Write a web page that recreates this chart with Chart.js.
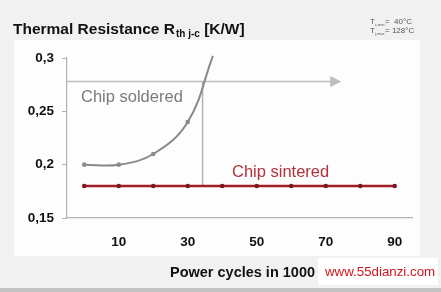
<!DOCTYPE html>
<html>
<head>
<meta charset="utf-8">
<script src="https://cdn.jsdelivr.net/npm/chart.js@4.4.1/dist/chart.umd.min.js"></script>
<style>
  html, body { margin: 0; padding: 0; background: #f1f1f1; }
  #wrap { position: relative; width: 441px; height: 292px; overflow: hidden; }
  canvas { position: absolute; left: 0; top: 0; }
</style>
</head>
<body>
<div id="wrap"><canvas id="c" width="441" height="292"></canvas></div>
<script>
// ---- data ----
const cycles = [0, 10, 20, 30, 40, 50, 60, 70, 80, 90];
const sinteredValues = [0.18, 0.18, 0.18, 0.18, 0.18, 0.18, 0.18, 0.18, 0.18, 0.18];
const solderedCycles = [0, 10, 20, 30, 37.3];
const solderedValues = [0.2, 0.2, 0.21, 0.24, 0.302];
const xTickValues = [10, 30, 50, 70, 90];
const yTickValues = [0.15, 0.2, 0.25, 0.3];
const titleMain = 'Thermal Resistance R';
const titleSub = 'th j-c';
const titleUnit = ' [K/W]';
const xAxisTitle = 'Power cycles in 1000';
const seriesNames = ['Chip soldered', 'Chip sintered'];
const arrowLevel = 0.278;      // horizontal arrow value
const arrowEnd = 74.5;         // arrow tip (cycles)
const crossCycle = 34.3;       // vertical marker (cycles)
const watermark = 'www.55dianzi.com';

const FONT = '"Liberation Sans", Arial, sans-serif';

const decorPlugin = {
  id: 'decor',
  beforeDraw(chart) {
    const ctx = chart.ctx;
    ctx.save();
    ctx.fillStyle = '#f1f1f1';
    ctx.fillRect(0, 0, 441, 292);
    ctx.fillStyle = '#fdfdfd';
    ctx.fillRect(14, 40, 406, 216);
    ctx.fillStyle = '#c2c2c2';
    ctx.fillRect(0, 288, 441, 4);
    ctx.restore();
  },
  beforeDatasetsDraw(chart) {
    const ctx = chart.ctx;
    const xs = chart.scales.x, ys = chart.scales.y;
    ctx.save();
    const ay = ys.getPixelForValue(arrowLevel);
    const ax0 = chart.chartArea.left;
    const ax1 = xs.getPixelForValue(arrowEnd);
    ctx.strokeStyle = '#bdbdbd';
    ctx.lineWidth = 1.5;
    ctx.beginPath();
    ctx.moveTo(ax0, ay);
    ctx.lineTo(ax1 - 9, ay);
    ctx.stroke();
    ctx.fillStyle = '#bdbdbd';
    ctx.beginPath();
    ctx.moveTo(ax1, ay);
    ctx.lineTo(ax1 - 11, ay - 5.5);
    ctx.lineTo(ax1 - 11, ay + 5.5);
    ctx.closePath();
    ctx.fill();
    const vx = xs.getPixelForValue(crossCycle);
    ctx.strokeStyle = '#b5b5b5';
    ctx.beginPath();
    ctx.moveTo(vx, ay);
    ctx.lineTo(vx, ys.getPixelForValue(0.18));
    ctx.stroke();
    ctx.restore();
  },
  afterDraw(chart) {
    const ctx = chart.ctx;
    ctx.save();
    ctx.textBaseline = 'middle';
    ctx.textAlign = 'left';
    ctx.font = '16.5px ' + FONT;
    ctx.fillStyle = '#7a7a7a';
    ctx.fillText(seriesNames[0], 81, 97);
    ctx.fillStyle = '#b3323b';
    ctx.fillText(seriesNames[1], 232, 172);
    // title
    ctx.fillStyle = '#111';
    ctx.textBaseline = 'alphabetic';
    ctx.font = 'bold 15.5px ' + FONT;
    ctx.fillText(titleMain, 13, 33.5);
    let w = ctx.measureText(titleMain).width;
    ctx.font = 'bold 10px ' + FONT;
    ctx.fillText(titleSub, 13 + w + 1, 37);
    let w2 = ctx.measureText(titleSub).width;
    ctx.font = 'bold 15.5px ' + FONT;
    ctx.fillText(titleUnit, 13 + w + 1 + w2, 33.5);
    // temperature note
    ctx.fillStyle = '#555';
    ctx.font = '8px ' + FONT;
    ctx.fillText('T', 370, 24);
    ctx.fillText('T', 370, 33);
    ctx.font = '4px ' + FONT;
    ctx.fillText('c,min', 375, 25.5);
    ctx.fillText('j,max', 375, 34.5);
    ctx.font = '8px ' + FONT;
    ctx.fillText('=  40\u00b0C', 385, 24);
    ctx.fillText('= 128\u00b0C', 385, 33);
    // x axis title
    ctx.fillStyle = '#111';
    ctx.textAlign = 'center';
    ctx.textBaseline = 'middle';
    ctx.font = 'bold 14.5px ' + FONT;
    ctx.fillText(xAxisTitle, 242.5, 272.5);
    // watermark
    ctx.strokeStyle = '#c8202a';
    ctx.lineWidth = 1.2;
    ctx.beginPath();
    ctx.moveTo(372, 272);
    ctx.quadraticCurveTo(385, 258, 400, 262);
    ctx.stroke();
    ctx.fillStyle = '#ffffff';
    ctx.fillRect(318, 258, 120, 27);
    ctx.fillStyle = '#d0141e';
    ctx.font = '13.3px ' + FONT;
    ctx.textAlign = 'left';
    ctx.fillText(watermark, 325, 272);
    ctx.restore();
  }
};

new Chart(document.getElementById('c'), {
  type: 'line',
  data: {
    datasets: [
      {
        label: seriesNames[0],
        data: solderedCycles.map((x, i) => ({ x, y: solderedValues[i] })),
        borderColor: '#8a8a8a',
        backgroundColor: '#8a8a8a',
        borderWidth: 2,
        pointRadius: solderedCycles.map((x, i) => i === solderedCycles.length - 1 ? 0 : 2.3),
        pointBorderWidth: 0,
        tension: 0.4,
        clip: 6
      },
      {
        label: seriesNames[1],
        data: cycles.map((x, i) => ({ x, y: sinteredValues[i] })),
        borderColor: '#a11d28',
        backgroundColor: '#7e1820',
        borderWidth: 2.5,
        pointRadius: 2.3,
        pointBorderWidth: 0,
        tension: 0
      }
    ]
  },
  options: {
    responsive: false,
    animation: false,
    devicePixelRatio: 1,
    layout: { padding: { left: 0, right: 29, top: 58, bottom: 0 } },
    plugins: { legend: { display: false }, tooltip: { enabled: false } },
    scales: {
      x: {
        type: 'linear',
        min: -5,
        max: 95,
        afterBuildTicks: (axis) => { axis.ticks = xTickValues.map(v => ({ value: v })); },
        afterFit: (axis) => { axis.height = 74; },
        grid: { display: false },
        border: { display: true, color: '#b3b3b3', width: 1.2 },
        ticks: {
          padding: 8,
          color: '#111',
          font: { family: FONT, size: 13.5, weight: 'bold' },
          maxRotation: 0
        }
      },
      y: {
        min: 0.15,
        max: 0.3,
        afterBuildTicks: (axis) => { axis.ticks = yTickValues.map(v => ({ value: v })); },
        afterFit: (axis) => { axis.width = 67; },
        grid: { drawOnChartArea: false, drawTicks: true, tickLength: 5, color: '#b3b3b3' },
        border: { display: true, color: '#b3b3b3', width: 1.2 },
        ticks: {
          padding: 8,
          color: '#111',
          font: { family: FONT, size: 13.5, weight: 'bold' },
          callback: (v) => String(Math.round(v * 100) / 100).replace('.', ',')
        }
      }
    }
  },
  plugins: [decorPlugin]
});
</script>
</body>
</html>
